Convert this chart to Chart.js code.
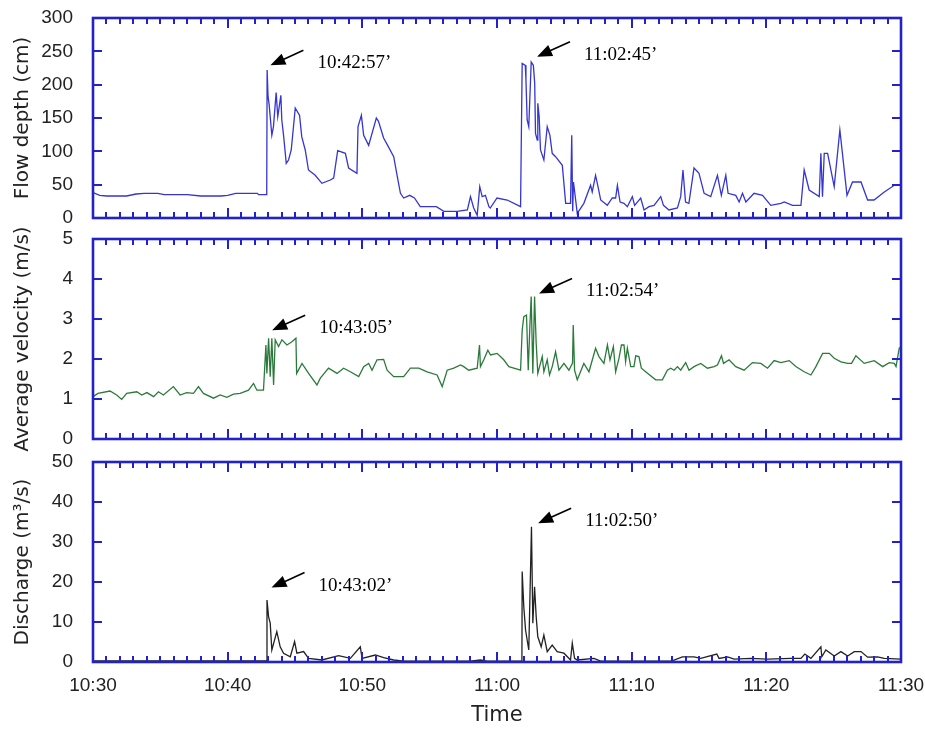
<!DOCTYPE html>
<html>
<head>
<meta charset="utf-8">
<script src="https://cdn.jsdelivr.net/npm/chart.js@4.4.0/dist/chart.umd.min.js"></script>
<style>
  body { margin: 0; background: #fff; width: 925px; height: 729px; position: relative; overflow: hidden; }
  .panel { position: absolute; left: 0; width: 925px; }
</style>
</head>
<body>
<div class="panel" style="top:0;height:232px"><canvas id="depthChart"></canvas></div>
<div class="panel" style="top:212px;height:240px"><canvas id="velocityChart"></canvas></div>
<div class="panel" style="top:452px;height:277px"><canvas id="dischargeChart"></canvas></div>
<script>
"use strict";

// x axis: minutes after 10:30
var timeTickLabels = ["10:30", "10:40", "10:50", "11:00", "11:10", "11:20", "11:30"];

// flow depth (cm)
var depthTimes = [0, 0.5, 1, 2.5, 3.2, 3.8, 4.8, 5.3, 7, 8, 9.5, 10, 10.6, 12.2, 12.3, 12.9,
  12.93, 13.0, 13.08, 13.28, 13.4, 13.6, 13.72, 13.95, 14.02, 14.15, 14.35, 14.52, 14.72, 15.02,
  15.34, 15.5, 15.76, 16.0, 16.5, 17.0, 17.62, 17.87, 18.17, 18.74, 18.98, 19.6, 19.68, 19.93,
  20.1, 20.47, 21.04, 21.2, 21.58, 21.88, 22.33, 22.58, 22.83, 23.07, 23.52, 23.87, 24.3, 25.5,
  26.05, 27.03, 27.8, 28.03, 28.27, 28.53, 28.72, 28.9, 29.14, 29.4, 29.5, 30.0, 30.76, 31.75,
  31.87, 32.1, 32.15, 32.24, 32.36, 32.54, 32.7, 32.8, 32.86, 32.99, 33.03, 33.13, 33.23, 33.48,
  33.73, 33.93, 34.1, 34.35, 34.85, 35.1, 35.46, 35.55, 35.62, 35.68, 35.96, 36.45, 36.95, 37.07,
  37.32, 37.5, 37.7, 38.19, 38.56, 38.81, 38.94, 39.14, 39.43, 39.68, 40.05, 40.22, 40.67, 40.92,
  41.29, 41.66, 42.16, 42.36, 42.77, 43.4, 43.64, 43.81, 44.0, 44.25, 44.63, 45.0, 45.38, 45.87,
  46.37, 46.66, 46.99, 47.16, 47.73, 47.98, 48.23, 48.48, 49.09, 49.72, 50.33, 51.08, 51.33, 51.94,
  52.57, 52.81, 53.18, 53.93, 54.05, 54.17, 54.3, 54.55, 55.04, 55.46, 55.99, 56.4, 57.03, 57.52,
  58.0, 58.76, 59.5, 60];
var depthValues = [38, 34, 33, 33, 36, 37, 37, 35, 35, 33, 33, 34, 37, 37, 35, 35,
  222, 182, 170, 124, 137, 188, 152, 184, 147, 124, 82, 87, 102, 165,
  154, 122, 102, 72, 64, 52, 57, 60, 101, 97, 75, 67, 137, 154,
  124, 109, 150, 145, 120, 109, 92, 64, 37, 30, 34, 30, 17, 17,
  10, 10, 12, 32, 15, 4, 47, 32, 34, 17, 15, 30, 27, 17,
  232, 229, 207, 147, 137, 234, 229, 202, 127, 117, 172, 152, 102, 87,
  137, 124, 97, 92, 79, 22, 22, 124, 10, 54, 7, 22, 49, 39,
  64, 47, 27, 19, 30, 30, 49, 24, 22, 17, 32, 19, 30, 12,
  17, 19, 32, 19, 12, 15, 32, 72, 24, 22, 75, 67, 37, 32,
  64, 34, 64, 37, 34, 24, 37, 24, 37, 34, 19, 22, 24, 19,
  19, 72, 42, 32, 97, 32, 97, 97, 47, 132, 34, 54, 54, 27,
  27, 39, 49, 49];

// average velocity (m/s)
var velocityTimes = [0, 0.37, 1.26, 1.76, 2.13, 2.5, 3.25, 3.62, 4.0, 4.5, 4.86, 5.23, 5.97, 6.47,
  6.96, 7.46, 7.83, 8.2, 8.95, 9.44, 9.94, 10.43, 10.93, 11.55, 11.92, 12.17, 12.66, 12.84, 12.91,
  13.04, 13.16, 13.28, 13.41, 13.53, 13.78, 14.03, 14.4, 14.77, 15.07, 15.12, 15.52, 16.01, 16.63,
  16.88, 17.49, 18.12, 18.61, 19.11, 19.73, 20.1, 20.47, 20.72, 21.09, 21.58, 21.84, 22.33, 23.07,
  23.57, 24.19, 24.81, 25.55, 25.93, 26.3, 26.79, 27.29, 27.53, 27.9, 28.53, 28.7, 28.77, 29.02,
  29.32, 29.52, 30.01, 30.5, 30.88, 31.25, 31.75, 31.87, 31.99, 32.19, 32.32, 32.44, 32.54, 32.66,
  32.79, 32.91, 33.03, 33.36, 33.48, 33.73, 33.9, 34.1, 34.35, 34.6, 34.97, 35.34, 35.61, 35.66,
  35.76, 35.96, 36.45, 36.83, 37.32, 37.57, 37.94, 38.2, 38.39, 38.64, 38.81, 39.06, 39.24, 39.43,
  39.55, 39.68, 39.93, 40.17, 40.3, 40.54, 40.72, 41.04, 41.78, 42.28, 42.65, 42.9, 43.15, 43.4,
  43.64, 44.01, 44.26, 44.63, 45.13, 45.63, 46.12, 46.37, 46.67, 46.82, 47.23, 47.73, 48.35, 48.97,
  49.59, 50.09, 50.58, 51.08, 51.7, 52.19, 52.81, 53.31, 53.68, 54.18, 54.67, 55.04, 55.54, 56.04,
  56.33, 56.65, 57.27, 58.01, 58.64, 59.13, 59.5, 59.63, 59.87, 60];
var velocityValues = [1.06, 1.14, 1.2, 1.1, 0.99, 1.14, 1.18, 1.1, 1.16, 1.06, 1.18, 1.1, 1.31, 1.1,
  1.16, 1.14, 1.31, 1.14, 1.02, 1.1, 1.04, 1.12, 1.14, 1.22, 1.39, 1.22, 1.22, 2.35, 1.64,
  2.52, 1.56, 2.52, 1.35, 2.48, 2.31, 2.48, 2.35, 2.43, 2.52, 1.64, 1.89, 1.64, 1.35,
  1.52, 1.77, 1.64, 1.77, 1.68, 1.56, 1.81, 1.89, 1.72, 1.98, 1.99, 1.72, 1.56, 1.56,
  1.77, 1.77, 1.68, 1.6, 1.31, 1.72, 1.77, 1.85, 1.81, 1.72, 1.77, 2.35, 1.81, 1.98,
  2.22, 2.1, 2.14, 1.98, 1.81, 1.77, 1.72, 2.72, 3.06, 3.1, 1.72, 2.81, 3.56, 1.64,
  3.56, 2.39, 1.64, 2.06, 1.68, 1.98, 1.6, 1.81, 2.18, 1.72, 1.89, 1.72, 1.9, 2.85,
  1.72, 1.48, 1.89, 1.68, 2.27, 2.06, 1.89, 2.35, 1.98, 2.31, 1.68, 2.02, 2.35, 2.35,
  1.93, 2.27, 1.81, 1.81, 2.08, 2.06, 1.77, 1.68, 1.48, 1.48, 1.72, 1.77, 1.72, 1.81,
  1.72, 1.91, 1.72, 1.81, 1.89, 1.77, 1.81, 1.85, 2.08, 1.89, 1.98, 1.81, 1.72, 1.91,
  1.89, 1.77, 1.96, 1.91, 1.96, 1.81, 1.68, 1.6, 1.81, 2.14, 2.14, 2.02, 1.93, 1.89,
  1.89, 2.08, 1.89, 1.96, 1.81, 1.91, 1.89, 1.81, 2.27, 2.3];

// discharge (m3/s)
var dischargeTimes = [0, 12.9, 12.92, 13.04, 13.16, 13.28, 13.65, 13.9, 14.15, 14.65, 14.97, 15.14,
  15.64, 16.01, 17.0, 18.24, 19.11, 19.85, 19.98, 20.97, 21.58, 22.33, 23.07, 28.0, 28.77, 29.26,
  31.85, 31.87, 31.99, 32.12, 32.36, 32.56, 32.66, 32.79, 32.91, 33.03, 33.28, 33.48, 33.73, 34.1,
  34.47, 34.97, 35.46, 35.59, 35.76, 35.96, 37.2, 37.7, 43.0, 43.77, 44.63, 45.13, 46.32, 46.49,
  47.12, 47.61, 48.85, 50.09, 51.82, 52.57, 52.86, 53.31, 54.05, 54.12, 54.42, 55.04, 55.54, 56.04,
  56.53, 57.03, 57.52, 58.26, 58.76, 60];
var dischargeValues = [0.3, 0.3, 15.5, 11.3, 9.7, 3, 7.6, 3.8, 2.2, 1.3, 5.1, 2.2,
  2.6, 0.9, 0.5, 1.6, 0.9, 3.8, 0.9, 1.75, 1.1, 0.5, 0.2, 0.2, 0.5, 0.2,
  0.2, 22.6, 13.8, 8, 3, 33.8, 9.7, 18.8, 11.3, 6.3, 3.8, 6.75, 2.6, 4.25,
  2.6, 2.2, 0.5, 4.7, 0.9, 0.5, 0.9, 0.2, 0.3, 1.3, 1.3, 0.9, 2, 0.9,
  1.3, 0.7, 0.9, 0.7, 0.9, 0.9, 2, 0.9, 3.8, 1.3, 3, 1.5, 2.6, 1.5,
  2.6, 2.6, 1.2, 1.3, 0.9, 0.7];

// peak time annotations
var depthMarkLabels = ["10:42:57’", "11:02:45’"];
var depthMarkValues = [229, 242];
var velocityMarkLabels = ["10:43:05’", "11:02:54’"];
var velocityMarkValues = [2.72, 3.64];
var dischargeMarkLabels = ["10:43:02’", "11:02:50’"];
var dischargeMarkValues = [18.6, 34.7];

var frameColor = "#2222c8";
var textColor = "#222";
var tickFont = { family: "'Liberation Sans Narrow', 'Liberation Sans', sans-serif", size: 19 };
var titleFont = { family: "'DejaVu Sans', sans-serif", size: 20 };

function toMinutes(label) {
    var p = label.replace("’", "").split(":");
    return (Number(p[0]) - 10) * 60 + Number(p[1]) - 30 + Number(p[2]) / 60;
}

function points(times, values) {
    return times.map(function (t, i) { return { x: t, y: values[i] }; });
}

var framePlugin = {
    id: "frame",
    afterDatasetsDraw: function (chart) {
        var ctx = chart.ctx, a = chart.chartArea;
        var xs = chart.scales.x, ys = chart.scales.y;
        ctx.save();
        ctx.strokeStyle = frameColor;
        ctx.lineWidth = 2;
        ctx.beginPath();
        for (var m = 1; m < 60; m++) {
            var px = Math.round(xs.getPixelForValue(m));
            var len = (m % 10 === 0) ? 10 : 6;
            ctx.moveTo(px, a.bottom); ctx.lineTo(px, a.bottom - len);
            ctx.moveTo(px, a.top); ctx.lineTo(px, a.top + len);
        }
        ys.ticks.forEach(function (t) {
            if (t.value > ys.min && t.value < ys.max) {
                var py = Math.round(ys.getPixelForValue(t.value));
                ctx.moveTo(a.left, py); ctx.lineTo(a.left + 9, py);
                ctx.moveTo(a.right, py); ctx.lineTo(a.right - 9, py);
            }
        });
        ctx.stroke();
        ctx.lineWidth = 2.6;
        ctx.strokeRect(a.left, a.top, a.right - a.left, a.bottom - a.top);
        ctx.restore();
    }
};

var arrowPlugin = {
    id: "arrows",
    afterDraw: function (chart, args, opts) {
        var ctx = chart.ctx;
        var xs = chart.scales.x, ys = chart.scales.y;
        ctx.save();
        ctx.strokeStyle = "#000";
        ctx.fillStyle = "#000";
        ctx.lineWidth = 1.6;
        ctx.font = "19px 'Liberation Serif', serif";
        ctx.textBaseline = "middle";
        opts.labels.forEach(function (label, i) {
            var tx = xs.getPixelForValue(toMinutes(label)) + 3;
            var ty = ys.getPixelForValue(opts.values[i]);
            var ex = tx + 33, ey = ty - 15;
            var ang = Math.atan2(ey - ty, ex - tx);
            var hx = tx + 13 * Math.cos(ang), hy = ty + 13 * Math.sin(ang);
            ctx.beginPath();
            ctx.moveTo(hx, hy); ctx.lineTo(ex, ey);
            ctx.stroke();
            ctx.beginPath();
            ctx.moveTo(tx, ty);
            ctx.lineTo(tx + 15 * Math.cos(ang) - 6 * Math.sin(ang), ty + 15 * Math.sin(ang) + 6 * Math.cos(ang));
            ctx.lineTo(tx + 15 * Math.cos(ang) + 6 * Math.sin(ang), ty + 15 * Math.sin(ang) - 6 * Math.cos(ang));
            ctx.closePath();
            ctx.fill();
            ctx.fillText(label, tx + 47, ty - 2);
        });
        ctx.restore();
    }
};

function makePanel(id, times, values, color, yMax, yStep, yTitle, markLabels, markValues, pad, withTime) {
    var ctx = document.getElementById(id);
    return new Chart(ctx, {
        type: "line",
        data: {
            datasets: [{
                data: points(times, values),
                borderColor: color,
                borderWidth: 1.3,
                pointRadius: 0,
                tension: 0,
                fill: false
            }]
        },
        options: {
            responsive: true,
            maintainAspectRatio: false,
            animation: false,
            layout: { padding: { left: 0, right: 24, top: pad.top, bottom: pad.bottom } },
            plugins: {
                legend: { display: false },
                tooltip: { enabled: false },
                arrows: { labels: markLabels, values: markValues }
            },
            scales: {
                x: {
                    type: "linear",
                    min: 0,
                    max: 60,
                    display: withTime,
                    grid: { display: false, drawTicks: false },
                    border: { display: false },
                    ticks: {
                        stepSize: 10,
                        color: textColor,
                        font: tickFont,
                        padding: 12,
                        maxRotation: 0,
                        callback: function (v) { return timeTickLabels[Math.round(v / 10)]; }
                    },
                    title: {
                        display: withTime,
                        text: "Time",
                        color: textColor,
                        font: { family: "'DejaVu Sans', sans-serif", size: 21 },
                        padding: { top: 0, bottom: 1 }
                    },
                    afterFit: function (scale) {
                        if (withTime) scale.height = 67;
                        scale.paddingLeft = 0;
                        scale.paddingRight = 0;
                    }
                },
                y: {
                    min: 0,
                    max: yMax,
                    grid: { display: false, drawTicks: false },
                    border: { display: false },
                    ticks: { stepSize: yStep, color: textColor, font: tickFont, padding: 20 },
                    title: {
                        display: true,
                        text: yTitle,
                        color: textColor,
                        font: titleFont,
                        padding: { top: 11, bottom: 0 }
                    },
                    afterFit: function (scale) {
                        scale.width = 93;
                        scale.paddingTop = 0;
                        scale.paddingBottom = 0;
                    }
                }
            }
        },
        plugins: [framePlugin, arrowPlugin]
    });
}

makePanel("depthChart", depthTimes, depthValues, "#3535d2", 300, 50, "Flow depth (cm)",
    depthMarkLabels, depthMarkValues, { top: 18, bottom: 14 }, false);
makePanel("velocityChart", velocityTimes, velocityValues, "#2b7a3b", 5, 1, "Average velocity (m/s)",
    velocityMarkLabels, velocityMarkValues, { top: 27, bottom: 13 }, false);
makePanel("dischargeChart", dischargeTimes, dischargeValues, "#222", 50, 10, "Discharge (m³/s)",
    dischargeMarkLabels, dischargeMarkValues, { top: 10, bottom: 0 }, true);
</script>
</body>
</html>
